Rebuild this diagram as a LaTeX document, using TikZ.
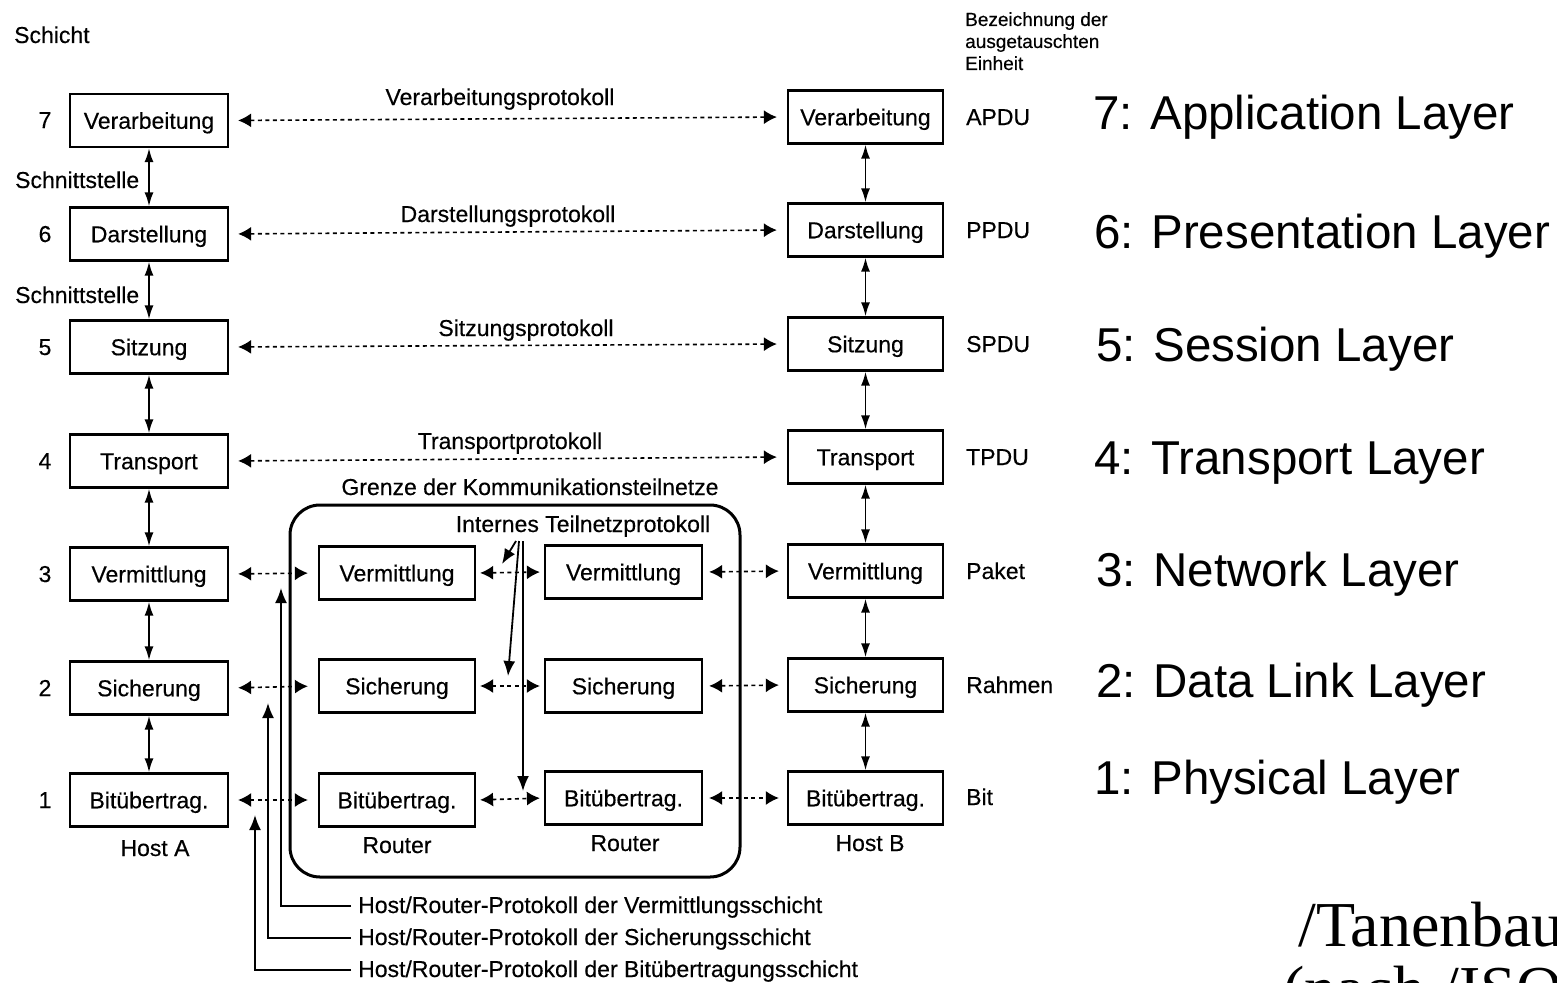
\documentclass[tikz,border=0pt]{standalone}
\usepackage{fontspec}
\setmainfont{Liberation Sans}
\newfontfamily\printfont[FakeBold=0.35]{Liberation Sans}
\newfontfamily\refserif{Liberation Serif}
\usetikzlibrary{arrows.meta}

\begin{document}
\begin{tikzpicture}[x=1pt, y=-1pt,
  fnt/.style={font=\printfont\fontsize{23}{27}\selectfont},
  txt/.style={fnt, inner sep=0pt, anchor=base},
  ltxt/.style={fnt, inner sep=0pt, anchor=base west},
  layerbox/.style={draw, line width=2.2pt, minimum height=53pt, inner sep=0pt,
    text height=16.5pt, text depth=0pt, fnt},
  iface/.style={line width=1.9pt, <->, >={Latex[length=14pt,width=9pt]}},
  peer/.style={line width=1.6pt, dash pattern=on 4pt off 3.5pt, <->,
    >={Latex[length=13pt,width=14pt]}},
  pointer/.style={line width=1.8pt, ->, >={Latex[length=15pt,width=12pt]}},
  eng/.style={anchor=base west, inner sep=0pt, font=\fontsize{47.5}{56}\selectfont},
  source/.style={anchor=base west, inner sep=0pt, font=\refserif\fontsize{64}{72}\selectfont},
]
\useasboundingbox (0,0) rectangle (1557,982);
\clip (0,0) rectangle (1557,982);
\fill[white] (0,0) rectangle (1557,982);

% ---------- column headings ----------
\node[ltxt] (schicht) at (14,43) {Schicht};
\node[anchor=north west, inner sep=0pt, align=left,
  font=\printfont\fontsize{19}{22}\selectfont] (einheit) at (965,12)
  {Bezeichnung der\\ausgetauschten\\Einheit};

% ---------- layer numbers ----------
\foreach \n/\y in {7/128,6/242,5/355,4/469,3/582,2/696,1/808}
  \node[txt] (num\n) at (45,\y) {\n};

% ---------- Host A ----------
\node[layerbox, minimum width=158pt] (a7) at (149,120.5) {Verarbeitung};
\node[layerbox, minimum width=158pt] (a6) at (149,234) {Darstellung};
\node[layerbox, minimum width=158pt] (a5) at (149,347) {Sitzung};
\node[layerbox, minimum width=158pt] (a4) at (149,461) {Transport};
\node[layerbox, minimum width=158pt] (a3) at (149,574) {Vermittlung};
\node[layerbox, minimum width=158pt] (a2) at (149,688) {Sicherung};
\node[layerbox, minimum width=158pt] (a1) at (149,800) {Bitübertrag.};
\node[txt] (hosta) at (155,856) {Host A};

% ---------- Host B ----------
\node[layerbox, minimum width=155pt] (b7) at (865.5,117) {Verarbeitung};
\node[layerbox, minimum width=155pt] (b6) at (865.5,230) {Darstellung};
\node[layerbox, minimum width=155pt] (b5) at (865.5,344) {Sitzung};
\node[layerbox, minimum width=155pt] (b4) at (865.5,457) {Transport};
\node[layerbox, minimum width=155pt] (b3) at (865.5,571) {Vermittlung};
\node[layerbox, minimum width=155pt] (b2) at (865.5,685) {Sicherung};
\node[layerbox, minimum width=155pt] (b1) at (865.5,798) {Bitübertrag.};
\node[txt] (hostb) at (870,851) {Host B};

% ---------- communication subnet ----------
\draw[line width=3pt, rounded corners=30pt] (290,505) rectangle (740,877);
\node[txt] (grenze) at (530,495) {Grenze der Kommunikationsteilnetze};
\node[txt] (internes) at (583,532) {Internes Teilnetzprotokoll};

\node[layerbox, minimum width=156pt] (r3) at (397,573) {Vermittlung};
\node[layerbox, minimum width=156pt] (r2) at (397,686) {Sicherung};
\node[layerbox, minimum width=156pt] (r1) at (397,800) {Bitübertrag.};
\node[txt] (routera) at (397,853) {Router};

\node[layerbox, minimum width=157pt] (s3) at (623.5,572) {Vermittlung};
\node[layerbox, minimum width=157pt] (s2) at (623.5,686) {Sicherung};
\node[layerbox, minimum width=157pt] (s1) at (623.5,798) {Bitübertrag.};
\node[txt] (routerb) at (625,851) {Router};

% ---------- interfaces between adjacent layers ----------
\foreach \u/\l in {7/6,6/5,5/4,4/3,3/2,2/1} {
  \draw[iface] (a\u.south) -- (a\l.north);
  \draw[iface] (b\u.south) -- (b\l.north);
}
\node[ltxt] (if76) at (15,188) {Schnittstelle};
\node[ltxt] (if65) at (15,303) {Schnittstelle};

% ---------- peer protocols, end to end ----------
\foreach \n in {7,6,5,4}
  \draw[peer, shorten <=9pt, shorten >=10pt] (a\n.east) -- (b\n.west);
\node[txt] (p7) at (500,105) {Verarbeitungsprotokoll};
\node[txt] (p6) at (508,222) {Darstellungsprotokoll};
\node[txt] (p5) at (526,336) {Sitzungsprotokoll};
\node[txt] (p4) at (510,449) {Transportprotokoll};

% ---------- peer protocols, hop by hop ----------
\foreach \n in {3,2,1} {
  \draw[peer, shorten <=9pt, shorten >=10pt] (a\n.east) -- (r\n.west);
  \draw[peer, shorten <=4pt, shorten >=4pt] (r\n.east) -- (s\n.west);
  \draw[peer, shorten <=6pt, shorten >=8pt] (s\n.east) -- (b\n.west);
}

% ---------- pointers of the internal subnet protocol ----------
\coordinate (itpa) at (516,541);
\coordinate (itpb) at (519,541);
\coordinate (itpc) at (523,541);
\coordinate (tipv) at (502,564);
\coordinate (tips) at (508,676);
\coordinate (tipb) at (523,791);
\draw[pointer] (itpa) -- (tipv);
\draw[pointer] (itpb) -- (tips);
\draw[pointer] (itpc) -- (tipb);

% ---------- host/router protocols ----------
\node[ltxt] (hrv) at (358,913) {Host/Router-Protokoll der Vermittlungsschicht};
\node[ltxt] (hrs) at (358,945) {Host/Router-Protokoll der Sicherungsschicht};
\node[ltxt] (hrb) at (358,977) {Host/Router-Protokoll der Bitübertragungsschicht};
\coordinate (hv) at (281,588);
\coordinate (hs) at (268,703);
\coordinate (hb) at (255,815);
\draw[pointer, shorten <=7pt] ([yshift=7pt]hrv.base west) -| (hv);
\draw[pointer, shorten <=7pt] ([yshift=7pt]hrs.base west) -| (hs);
\draw[pointer, shorten <=7pt] ([yshift=7pt]hrb.base west) -| (hb);

% ---------- unit names ----------
\foreach \n/\t/\y in {7/APDU/125,6/PPDU/238,5/SPDU/352,4/TPDU/465,
                      3/Paket/579,2/Rahmen/693,1/Bit/805}
  \node[ltxt] (unit\n) at (966,\y) {\t};

% ---------- English layer names ----------
\node[eng] (en7) at (1093,129) {7: Application Layer};
\node[eng] (en6) at (1094,248) {6: Presentation Layer};
\node[eng] (en5) at (1096,361) {5: Session Layer};
\node[eng] (en4) at (1094,474) {4: Transport Layer};
\node[eng] (en3) at (1096,586) {3: Network Layer};
\node[eng] (en2) at (1096,697) {2: Data Link Layer};
\node[eng] (en1) at (1094,794) {1: Physical Layer};

% ---------- source ----------
\node[source] (src1) at (1298,946) {/Tanenbaum/};
\node[source] (src2) at (1283,1010) {(nach /ISO/)};
\end{tikzpicture}
\end{document}
